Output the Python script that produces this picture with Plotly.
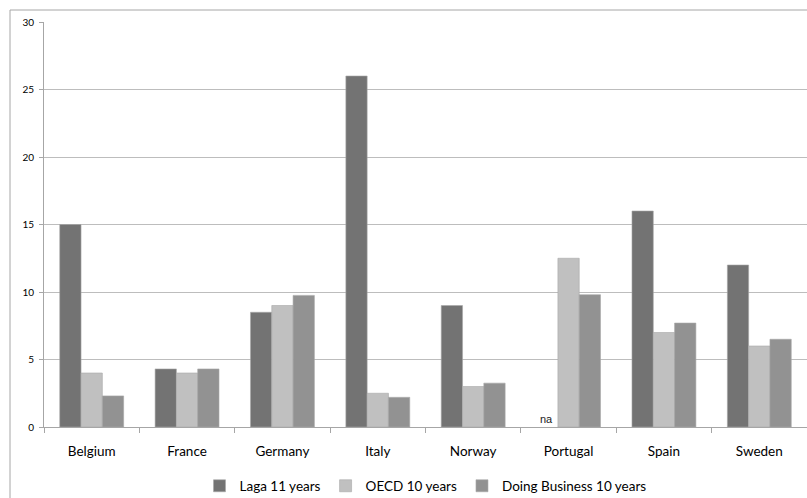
import plotly.graph_objects as go

countries = ["Belgium", "France", "Germany", "Italy", "Norway", "Portugal", "Spain", "Sweden"]
laga_11 = [15, 4.3, 8.5, 26, 9, None, 16, 12]
oecd_10 = [4, 4, 9, 2.5, 3, 12.5, 7, 6]
doing_business_10 = [2.3, 4.3, 9.75, 2.2, 3.25, 9.8, 7.7, 6.5]
y_ticks = [0, 5, 10, 15, 20, 25, 30]

W, H = 807, 498
L, R, T, B = 44, 0, 22, 71
pw, ph = W - L - R, H - T - B

series = [
    ("Laga 11 years", laga_11, "#737373"),
    ("OECD 10 years", oecd_10, "#c0c0c0"),
    ("Doing Business 10 years", doing_business_10, "#929292"),
]

fig = go.Figure()
for name, vals, color in series:
    fig.add_trace(go.Bar(
        x=countries, y=vals, name=name,
        marker=dict(color=color, line=dict(color="#a8a8a8", width=0.6)),
    ))

# missing value marker for Portugal
fig.add_annotation(
    x="Portugal", y=0, xref="x", yref="y", text="na", showarrow=False,
    xshift=-22, yshift=8, font=dict(family="Liberation Sans, Arial", size=11, color="#222222"),
)

# outer chart frame
px = lambda v: (v - L) / pw
py = lambda v: (H - B - v) / ph
fig.add_shape(type="rect", xref="paper", yref="paper",
              x0=px(10), x1=px(830), y0=py(10), y1=py(520),
              line=dict(color="#a6a6a6", width=1), fillcolor="rgba(0,0,0,0)", layer="below")

fig.update_layout(
    width=W, height=H,
    margin=dict(l=L, r=R, t=T, b=B, pad=0, autoexpand=False),
    plot_bgcolor="white", paper_bgcolor="white",
    barmode="group", bargap=0.33, bargroupgap=0,
    font=dict(family="Lato, Carlito, Liberation Sans, sans-serif", color="#000000"),
    showlegend=True,
    legend=dict(orientation="h", x=0.5, xanchor="center", y=py(486), yanchor="middle",
                font=dict(size=13.5), itemwidth=30, traceorder="normal", tracegroupgap=0),
    xaxis=dict(
        showgrid=False, showline=True, linecolor="#a6a6a6", linewidth=1,
        ticks="outside", ticklen=5, tickcolor="#a6a6a6", tickson="boundaries",
        tickfont=dict(size=13.5), ticklabelstandoff=12, automargin=False,
    ),
    yaxis=dict(
        range=[0, 30], tickvals=y_ticks, showgrid=True, gridcolor="#bdbdbd", gridwidth=1,
        showline=True, linecolor="#a6a6a6", linewidth=1, zeroline=False,
        ticks="outside", ticklen=4, tickcolor="#a6a6a6", tickfont=dict(size=10),
        ticklabelstandoff=3, automargin=False,
    ),
)

fig.write_html("out.html")
